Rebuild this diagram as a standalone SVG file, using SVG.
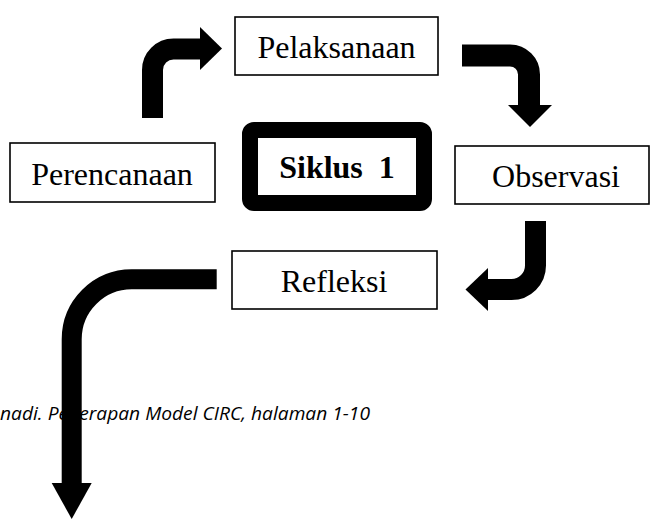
<svg xmlns="http://www.w3.org/2000/svg" width="650" height="520" viewBox="0 0 650 520">
<style>
.box{fill:#fff;stroke:#000;stroke-width:1.6}
.lbl{font-family:"Liberation Serif","Times New Roman",serif;font-size:32px;fill:#000;text-anchor:middle}
.arr{fill:none;stroke:#000;stroke-linejoin:miter}
.head{fill:#000}
.cap{font-family:"Open Sans","Liberation Sans",sans-serif;font-style:italic;font-size:19px;fill:#000}
</style>
<rect width="650" height="520" fill="#fff"/>
<text class="cap" x="0" y="420" textLength="370" lengthAdjust="spacingAndGlyphs">nadi. Penerapan Model CIRC, halaman 1-10</text>
<g id="perencanaan">
<rect class="box" x="10" y="143" width="205" height="59"/>
<text class="lbl" x="112" y="184.5">Perencanaan</text>
</g>
<g id="pelaksanaan">
<rect class="box" x="235" y="17" width="203" height="58"/>
<text class="lbl" x="336.5" y="58">Pelaksanaan</text>
</g>
<g id="siklus">
<rect x="250" y="130" width="174" height="73" rx="4" fill="#fff" stroke="#000" stroke-width="16"/>
<text class="lbl" x="337" y="178" font-weight="bold" xml:space="preserve">Siklus  1</text>
</g>
<g id="observasi">
<rect class="box" x="455" y="146" width="194" height="58"/>
<text class="lbl" x="556" y="187">Observasi</text>
</g>
<g id="refleksi">
<rect class="box" x="232" y="251" width="205" height="58"/>
<text class="lbl" x="334" y="292">Refleksi</text>
</g>
<g id="connectors">
<path class="arr" stroke-width="21" d="M152.5,118 V70 A21,21 0 0 1 173.5,49 H201"/>
<polygon class="head" points="200,27 222,48.5 200,70"/>
<path class="arr" stroke-width="22" d="M462,55.5 H510 A19,19 0 0 1 529,74.5 V106"/>
<polygon class="head" points="508,105 552,105 530,127"/>
<path class="arr" stroke-width="21" d="M535.5,221 V265.5 A24,24 0 0 1 511.5,289.5 H487"/>
<polygon class="head" points="488,268 488,311 465.5,289.5"/>
<path class="arr" stroke-width="20" d="M216.7,279.3 H131.7 A60,60 0 0 0 71.7,339.3 V484"/>
<polygon class="head" points="51.7,483 91.7,483 71.7,519"/>
</g>
</svg>
